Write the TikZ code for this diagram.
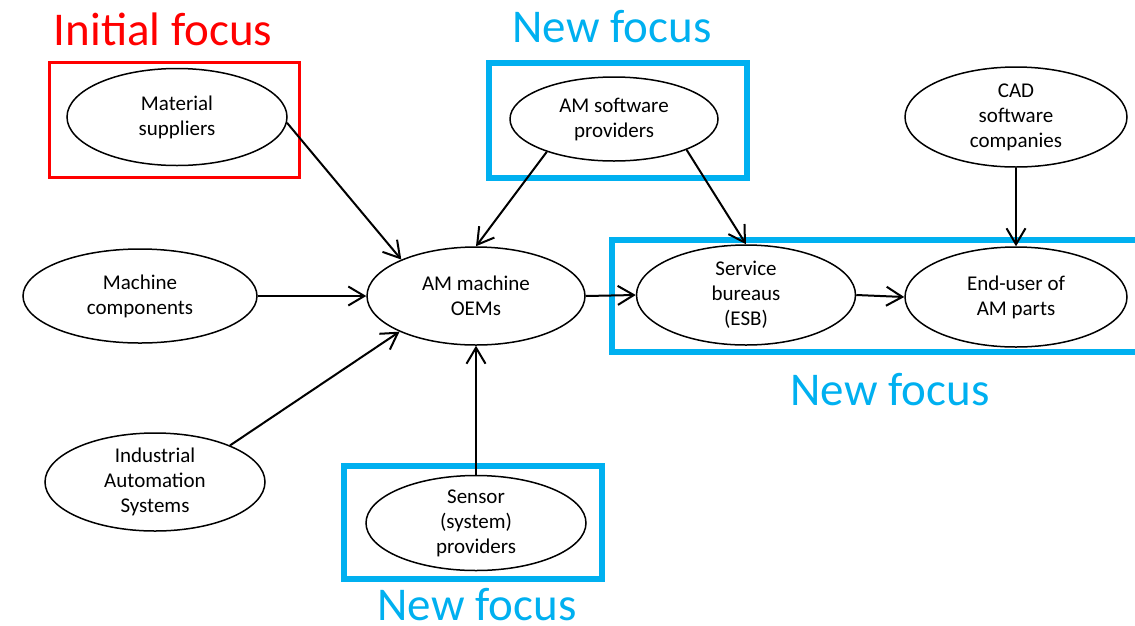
\documentclass[tikz,border=0pt]{standalone}
\usepackage{fontspec}
\setmainfont{Carlito}
\usetikzlibrary{shapes.geometric,arrows.meta}
\definecolor{focusblue}{RGB}{0,176,240}
\definecolor{focusred}{RGB}{255,0,0}
\begin{document}
\begin{tikzpicture}[x=1pt,y=-1pt,
  actor/.style={ellipse,draw=black,line width=1.5pt,inner sep=0pt,align=center,
    font=\fontsize{21}{25}\selectfont},
  link/.style={line width=2pt,-{Straight Barb[length=16pt,width=19pt,line width=2pt]}},
  bluebox/.style={draw=focusblue,line width=5.5pt},
  redbox/.style={draw=focusred,line width=3pt},
  title/.style={anchor=base,font=\fontsize{47}{56}\selectfont,inner sep=0pt}]
\useasboundingbox (0,0) rectangle (1135,625);
% focus boxes
\draw[redbox] (49,62) rectangle (299,177);
\draw[bluebox] (489,63) rectangle (747,178);
\draw[bluebox] (612,240) rectangle (1145,352);
\draw[bluebox] (344,466) rectangle (602,579);
% titles
\node[title,text=focusred] (t1) at (163,45) {Initial focus};
\node[title,text=focusblue] (t2) at (612,42) {New focus};
\node[title,text=focusblue] (t3) at (890,405) {New focus};
\node[title,text=focusblue] (t4) at (477,620) {New focus};
% actors
\node[actor,minimum width=220pt,minimum height=97pt] (ms) at (177,117) {Material\\suppliers};
\node[actor,minimum width=208pt,minimum height=84pt] (sw) at (614,119) {AM software\\providers};
\node[actor,minimum width=222pt,minimum height=100pt] (cad) at (1016,117) {CAD\\software\\companies};
\node[actor,minimum width=234pt,minimum height=94pt] (mc) at (140,296) {Machine\\components};
\node[actor,minimum width=218pt,minimum height=98pt] (oem) at (476,296) {AM machine\\OEMs};
\node[actor,minimum width=219pt,minimum height=100pt] (esb) at (746,295) {Service\\bureaus\\(ESB)};
\node[actor,minimum width=222pt,minimum height=100pt] (eu) at (1016,297) {End-user of\\AM parts};
\node[actor,minimum width=220pt,minimum height=98pt] (ias) at (155,482) {Industrial\\Automation\\Systems};
\node[actor,minimum width=220pt,minimum height=95pt] (sen) at (476,523) {Sensor\\(system)\\providers};
% connectors
\draw[link] (ms.-3) -- (oem.154);
\draw[link] (sw.206) -- (oem.90);
\draw[link] (sw.-23) -- (esb.90);
\draw[link] (cad.south) -- (eu.north);
\draw[link] (mc.east) -- (oem.west);
\draw[link] (ias.26) -- (oem.205);
\draw[link] (sen.north) -- (oem.south);
\draw[link] (oem.east) -- (esb.west);
\draw[link] (esb.east) -- (eu.west);
\end{tikzpicture}
\end{document}
